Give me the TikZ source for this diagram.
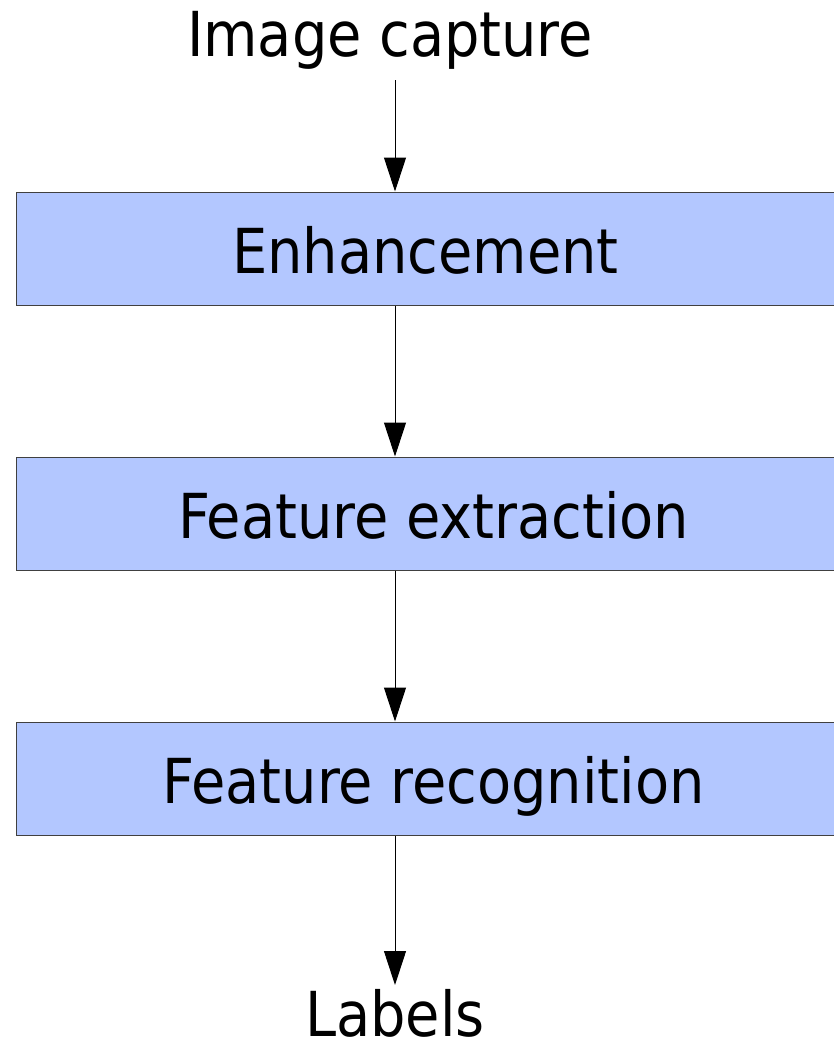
\documentclass[tikz,border=0pt]{standalone}
\usepackage{fontspec}
\setmainfont{DejaVu Sans Condensed}
\usetikzlibrary{arrows.meta}
\definecolor{stagefill}{RGB}{179,199,255}
\tikzset{
  stage/.style={draw=black!75, line width=1pt, fill=stagefill, anchor=west,
    minimum height=113pt, inner sep=0pt, text height=49pt, text depth=0pt,
    font=\fontsize{62}{70}\selectfont},
  flow/.style={line width=1pt, -{Triangle[width=22pt,length=34pt]}},
  endlabel/.style={font=\fontsize{62}{70}\selectfont, inner sep=0pt, anchor=base}
}
\begin{document}
\begin{tikzpicture}[x=1pt,y=-1pt]
\useasboundingbox (0,0) rectangle (833,1041);
% input and output labels
\node[endlabel] (cap) at (390,57) {Image capture};
\node[endlabel] (lab) at (395,1036) {Labels};
% processing stages (right edges run off the page)
\node[stage, minimum width=818pt] (enh) at (16,248.5) {Enhancement};
\node[stage, minimum width=834pt] (ext) at (16,513.5) {Feature extraction};
\node[stage, minimum width=834pt] (rec) at (16,778.5) {Feature recognition};
\coordinate (in) at (395,80);
\coordinate (out) at (395,985);
\draw[flow] (in) -- (in |- enh.north);
\draw[flow] (in |- enh.south) -- (in |- ext.north);
\draw[flow] (in |- ext.south) -- (in |- rec.north);
\draw[flow] (in |- rec.south) -- (out);
\end{tikzpicture}
\end{document}
